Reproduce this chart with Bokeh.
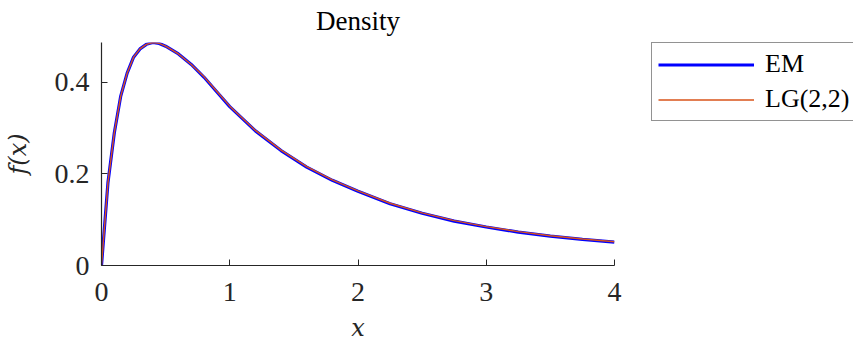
from bokeh.plotting import figure
from bokeh.models import Range1d, FixedTicker, Legend, LegendItem
from bokeh.embed import file_html
from bokeh.resources import INLINE

# ---- data ----
x_vals = [0, 0.05, 0.1, 0.15, 0.2, 0.25, 0.3, 0.35, 0.4, 0.45, 0.5, 0.6, 0.7, 0.8, 0.9,
          1.0, 1.2, 1.4, 1.6, 1.8, 2.0, 2.25, 2.5, 2.75, 3.0, 3.25, 3.5, 3.75, 4.0]
em_vals = [0, 0.18, 0.29, 0.37, 0.42, 0.455, 0.473, 0.483, 0.487, 0.485, 0.479, 0.462, 0.439,
           0.411, 0.379, 0.347, 0.294, 0.251, 0.215, 0.186, 0.162, 0.135, 0.114, 0.097,
           0.084, 0.073, 0.064, 0.057, 0.051]
lg_vals = [0, 0.18, 0.29, 0.37, 0.42, 0.455, 0.473, 0.483, 0.487, 0.485, 0.479, 0.462, 0.439,
           0.412, 0.380, 0.348, 0.295, 0.252, 0.216, 0.187, 0.163, 0.136, 0.115, 0.098,
           0.085, 0.074, 0.065, 0.058, 0.052]
x_ticks = [0, 1, 2, 3, 4]
y_ticks = [0, 0.2, 0.4]
y_tick_labels = {0: "0", 0.2: "0.2", 0.4: "0.4"}
series_names = ["EM", "LG(2,2)"]

FONT = "Liberation Serif"
IFONT = "DejaVu Serif"
AX = "#262626"

p = figure(frame_width=513, frame_height=223, output_backend="svg", toolbar_location=None,
           x_range=Range1d(0, 4), y_range=Range1d(0, 0.487),
           min_border_left=101, min_border_right=0, min_border_top=41, min_border_bottom=81)
p.outline_line_color = None
p.grid.visible = False
p.background_fill_color = "white"
p.border_fill_color = "white"

p.title.text = "Density"
p.title.align = "center"
p.title.vertical_align = "top"
p.title.text_font = FONT
p.title.text_font_size = "27px"
p.title.text_font_style = "normal"
p.title.text_color = "black"
p.title.standoff = 10

for ax in (p.xaxis[0], p.yaxis[0]):
    ax.axis_line_color = AX
    ax.axis_line_width = 1.2
    ax.major_tick_line_color = AX
    ax.major_tick_in = 6
    ax.major_tick_out = 0
    ax.minor_tick_line_color = None
    ax.major_label_text_font = FONT
    ax.major_label_text_font_size = "28px"
    ax.major_label_text_color = AX
    ax.axis_label_text_font = IFONT
    ax.axis_label_text_font_size = "24px"
    ax.axis_label_text_font_style = "italic"
    ax.axis_label_text_color = AX

p.xaxis.ticker = FixedTicker(ticks=x_ticks)
p.yaxis.ticker = FixedTicker(ticks=y_ticks)
p.yaxis.major_label_overrides = y_tick_labels
p.xaxis.axis_label = "x"
p.yaxis.axis_label = "f(x)"
p.xaxis.major_label_standoff = 17
p.yaxis.major_label_standoff = 12
p.xaxis.axis_label_standoff = 10
p.yaxis.axis_label_standoff = 20

r1 = p.line(x_vals, em_vals, line_color="#0000FF", line_width=3.2)
r2 = p.line(x_vals, lg_vals, line_color="#D95319", line_width=1.4)

legend = Legend(items=[LegendItem(label=series_names[0], renderers=[r1]),
                       LegendItem(label=series_names[1], renderers=[r2])],
                location=(37, 144))
legend.label_text_font = FONT
legend.label_text_font_size = "26px"
legend.label_text_color = "black"
legend.glyph_width = 96
legend.glyph_height = 25
legend.label_height = 25
legend.label_standoff = 11
legend.spacing = 5
legend.padding = 6
legend.margin = 0
legend.border_line_color = AX
legend.border_line_width = 1.2
legend.background_fill_color = "white"
legend.background_fill_alpha = 1.0
p.add_layout(legend, "right")

open("out.html", "w").write(file_html(p, INLINE))
